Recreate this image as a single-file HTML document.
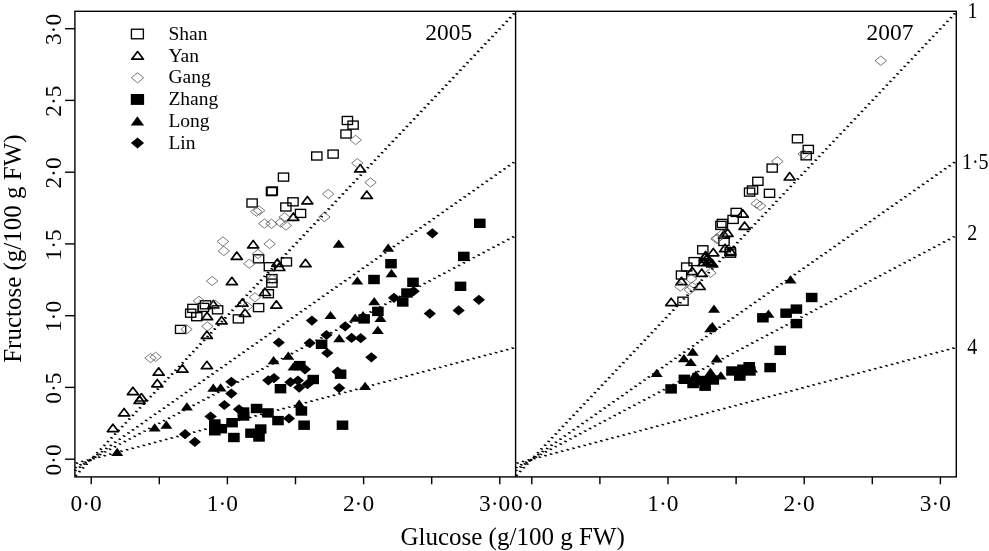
<!DOCTYPE html><html><head><meta charset="utf-8"><title>chart</title><style>html,body{margin:0;padding:0;background:#fff}svg{display:block;will-change:transform}text{font-family:"Liberation Serif",serif;fill:#000}</style></head><body>
<svg width="989" height="551" viewBox="0 0 989 551">
<rect width="989" height="551" fill="#fff"/>
<defs><clipPath id="c1"><rect x="74.9" y="11.3" width="440.70000000000005" height="465.59999999999997"/></clipPath><clipPath id="c2"><rect x="515.6" y="11.3" width="440.69999999999993" height="465.59999999999997"/></clipPath></defs>
<g clip-path="url(#c1)"><g transform="matrix(2.9483 0.9580 -0.4944 1.5217 0 0)" stroke="#000" stroke-width="1" stroke-linecap="round" fill="none">
<line x1="159.38" y1="-92.42" x2="70.47" y2="268.70" stroke-dasharray="0.001 3.0033" stroke-dashoffset="-1.502"/>
<line x1="174.24" y1="-3.82" x2="69.89" y2="265.29" stroke-dasharray="0.001 2.8960" stroke-dashoffset="-1.448"/>
<line x1="181.67" y1="40.48" x2="69.61" y2="263.59" stroke-dasharray="0.001 2.7839" stroke-dashoffset="-1.392"/>
<line x1="192.81" y1="106.93" x2="69.18" y2="261.04" stroke-dasharray="0.001 2.5050" stroke-dashoffset="-1.253"/>
</g></g>
<g clip-path="url(#c2)"><g transform="matrix(2.9483 0.9580 -0.4944 1.5217 0 0)" stroke="#000" stroke-width="1" stroke-linecap="round" fill="none">
<line x1="294.58" y1="-177.59" x2="205.66" y2="183.52" stroke-dasharray="0.001 3.0033" stroke-dashoffset="-1.502"/>
<line x1="309.44" y1="-88.98" x2="205.09" y2="180.14" stroke-dasharray="0.001 2.8960" stroke-dashoffset="-1.448"/>
<line x1="316.87" y1="-44.67" x2="204.81" y2="178.45" stroke-dasharray="0.001 2.7839" stroke-dashoffset="-1.392"/>
<line x1="328.01" y1="21.79" x2="204.38" y2="175.91" stroke-dasharray="0.001 2.5050" stroke-dashoffset="-1.253"/>
</g></g>
<rect x="187.78" y="304.38" width="10.25" height="8.05" fill="none" stroke="#000" stroke-width="1.35"/>
<rect x="185.57" y="309.18" width="10.25" height="8.05" fill="none" stroke="#000" stroke-width="1.35"/>
<rect x="191.68" y="312.68" width="10.25" height="8.05" fill="none" stroke="#000" stroke-width="1.35"/>
<rect x="198.38" y="303.38" width="10.25" height="8.05" fill="none" stroke="#000" stroke-width="1.35"/>
<rect x="200.38" y="300.78" width="10.25" height="8.05" fill="none" stroke="#000" stroke-width="1.35"/>
<rect x="212.47" y="305.78" width="10.25" height="8.05" fill="none" stroke="#000" stroke-width="1.35"/>
<rect x="233.28" y="314.88" width="10.25" height="8.05" fill="none" stroke="#000" stroke-width="1.35"/>
<rect x="175.47" y="325.38" width="10.25" height="8.05" fill="none" stroke="#000" stroke-width="1.35"/>
<rect x="253.48" y="303.58" width="10.25" height="8.05" fill="none" stroke="#000" stroke-width="1.35"/>
<rect x="263.18" y="289.68" width="10.25" height="8.05" fill="none" stroke="#000" stroke-width="1.35"/>
<rect x="266.77" y="274.58" width="10.25" height="8.05" fill="none" stroke="#000" stroke-width="1.35"/>
<rect x="266.77" y="279.08" width="10.25" height="8.05" fill="none" stroke="#000" stroke-width="1.35"/>
<rect x="253.48" y="254.78" width="10.25" height="8.05" fill="none" stroke="#000" stroke-width="1.35"/>
<rect x="264.27" y="262.68" width="10.25" height="8.05" fill="none" stroke="#000" stroke-width="1.35"/>
<rect x="281.27" y="257.88" width="10.25" height="8.05" fill="none" stroke="#000" stroke-width="1.35"/>
<rect x="246.97" y="198.97" width="10.25" height="8.05" fill="none" stroke="#000" stroke-width="1.35"/>
<rect x="280.77" y="202.97" width="10.25" height="8.05" fill="none" stroke="#000" stroke-width="1.35"/>
<rect x="287.88" y="197.78" width="10.25" height="8.05" fill="none" stroke="#000" stroke-width="1.35"/>
<rect x="295.38" y="209.38" width="10.25" height="8.05" fill="none" stroke="#000" stroke-width="1.35"/>
<rect x="278.38" y="173.07" width="10.25" height="8.05" fill="none" stroke="#000" stroke-width="1.35"/>
<rect x="266.38" y="187.57" width="10.25" height="8.05" fill="none" stroke="#000" stroke-width="1.35"/>
<rect x="267.18" y="186.97" width="10.25" height="8.05" fill="none" stroke="#000" stroke-width="1.35"/>
<rect x="311.68" y="151.97" width="10.25" height="8.05" fill="none" stroke="#000" stroke-width="1.35"/>
<rect x="327.98" y="150.07" width="10.25" height="8.05" fill="none" stroke="#000" stroke-width="1.35"/>
<rect x="342.27" y="116.47" width="10.25" height="8.05" fill="none" stroke="#000" stroke-width="1.35"/>
<rect x="347.98" y="121.07" width="10.25" height="8.05" fill="none" stroke="#000" stroke-width="1.35"/>
<rect x="340.88" y="129.97" width="10.25" height="8.05" fill="none" stroke="#000" stroke-width="1.35"/>
<rect x="697.67" y="245.78" width="10.25" height="8.05" fill="none" stroke="#000" stroke-width="1.35"/>
<rect x="688.98" y="257.58" width="10.25" height="8.05" fill="none" stroke="#000" stroke-width="1.35"/>
<rect x="681.58" y="262.98" width="10.25" height="8.05" fill="none" stroke="#000" stroke-width="1.35"/>
<rect x="676.38" y="270.98" width="10.25" height="8.05" fill="none" stroke="#000" stroke-width="1.35"/>
<rect x="725.17" y="247.57" width="10.25" height="8.05" fill="none" stroke="#000" stroke-width="1.35"/>
<rect x="725.38" y="249.17" width="10.25" height="8.05" fill="none" stroke="#000" stroke-width="1.35"/>
<rect x="718.88" y="237.47" width="10.25" height="8.05" fill="none" stroke="#000" stroke-width="1.35"/>
<rect x="677.88" y="297.18" width="10.25" height="8.05" fill="none" stroke="#000" stroke-width="1.35"/>
<rect x="744.48" y="188.07" width="10.25" height="8.05" fill="none" stroke="#000" stroke-width="1.35"/>
<rect x="747.38" y="185.97" width="10.25" height="8.05" fill="none" stroke="#000" stroke-width="1.35"/>
<rect x="764.38" y="189.28" width="10.25" height="8.05" fill="none" stroke="#000" stroke-width="1.35"/>
<rect x="731.08" y="208.38" width="10.25" height="8.05" fill="none" stroke="#000" stroke-width="1.35"/>
<rect x="727.98" y="215.38" width="10.25" height="8.05" fill="none" stroke="#000" stroke-width="1.35"/>
<rect x="715.77" y="221.38" width="10.25" height="8.05" fill="none" stroke="#000" stroke-width="1.35"/>
<rect x="717.27" y="219.38" width="10.25" height="8.05" fill="none" stroke="#000" stroke-width="1.35"/>
<rect x="792.38" y="134.78" width="10.25" height="8.05" fill="none" stroke="#000" stroke-width="1.35"/>
<rect x="803.17" y="145.38" width="10.25" height="8.05" fill="none" stroke="#000" stroke-width="1.35"/>
<rect x="801.08" y="151.78" width="10.25" height="8.05" fill="none" stroke="#000" stroke-width="1.35"/>
<rect x="767.08" y="164.07" width="10.25" height="8.05" fill="none" stroke="#000" stroke-width="1.35"/>
<rect x="752.77" y="177.28" width="10.25" height="8.05" fill="none" stroke="#000" stroke-width="1.35"/>
<path d="M107.4 431.6L112.9 424.2L118.5 431.6Z" fill="none" stroke="#000" stroke-width="1.7" stroke-linejoin="round"/>
<path d="M118.5 415.9L124.1 408.5L129.7 415.9Z" fill="none" stroke="#000" stroke-width="1.7" stroke-linejoin="round"/>
<path d="M127.4 394.6L132.9 387.2L138.5 394.6Z" fill="none" stroke="#000" stroke-width="1.7" stroke-linejoin="round"/>
<path d="M134.0 403.4L139.6 396.0L145.2 403.4Z" fill="none" stroke="#000" stroke-width="1.7" stroke-linejoin="round"/>
<path d="M135.8 401.0L141.4 393.6L147.0 401.0Z" fill="none" stroke="#000" stroke-width="1.7" stroke-linejoin="round"/>
<path d="M151.8 386.8L157.3 379.4L162.9 386.8Z" fill="none" stroke="#000" stroke-width="1.7" stroke-linejoin="round"/>
<path d="M153.1 375.2L158.7 367.8L164.2 375.2Z" fill="none" stroke="#000" stroke-width="1.7" stroke-linejoin="round"/>
<path d="M176.8 372.2L182.4 364.8L188.0 372.2Z" fill="none" stroke="#000" stroke-width="1.7" stroke-linejoin="round"/>
<path d="M201.3 368.7L206.9 361.3L212.5 368.7Z" fill="none" stroke="#000" stroke-width="1.7" stroke-linejoin="round"/>
<path d="M201.3 338.4L206.9 331.0L212.5 338.4Z" fill="none" stroke="#000" stroke-width="1.7" stroke-linejoin="round"/>
<path d="M216.0 323.9L221.6 316.5L227.2 323.9Z" fill="none" stroke="#000" stroke-width="1.7" stroke-linejoin="round"/>
<path d="M239.4 316.5L245.0 309.1L250.6 316.5Z" fill="none" stroke="#000" stroke-width="1.7" stroke-linejoin="round"/>
<path d="M236.8 306.2L242.4 298.8L248.0 306.2Z" fill="none" stroke="#000" stroke-width="1.7" stroke-linejoin="round"/>
<path d="M270.8 308.2L276.4 300.8L281.9 308.2Z" fill="none" stroke="#000" stroke-width="1.7" stroke-linejoin="round"/>
<path d="M259.4 295.5L265.0 288.1L270.6 295.5Z" fill="none" stroke="#000" stroke-width="1.7" stroke-linejoin="round"/>
<path d="M226.3 284.7L231.9 277.3L237.5 284.7Z" fill="none" stroke="#000" stroke-width="1.7" stroke-linejoin="round"/>
<path d="M207.8 307.9L213.3 300.5L218.9 307.9Z" fill="none" stroke="#000" stroke-width="1.7" stroke-linejoin="round"/>
<path d="M201.5 319.7L207.1 312.3L212.7 319.7Z" fill="none" stroke="#000" stroke-width="1.7" stroke-linejoin="round"/>
<path d="M247.6 247.9L253.2 240.5L258.8 247.9Z" fill="none" stroke="#000" stroke-width="1.7" stroke-linejoin="round"/>
<path d="M231.2 259.4L236.8 252.0L242.4 259.4Z" fill="none" stroke="#000" stroke-width="1.7" stroke-linejoin="round"/>
<path d="M271.8 266.3L277.4 258.9L282.9 266.3Z" fill="none" stroke="#000" stroke-width="1.7" stroke-linejoin="round"/>
<path d="M273.8 270.5L279.4 263.1L284.9 270.5Z" fill="none" stroke="#000" stroke-width="1.7" stroke-linejoin="round"/>
<path d="M299.9 266.7L305.5 259.3L311.1 266.7Z" fill="none" stroke="#000" stroke-width="1.7" stroke-linejoin="round"/>
<path d="M287.8 220.4L293.4 213.0L298.9 220.4Z" fill="none" stroke="#000" stroke-width="1.7" stroke-linejoin="round"/>
<path d="M301.8 203.9L307.4 196.5L312.9 203.9Z" fill="none" stroke="#000" stroke-width="1.7" stroke-linejoin="round"/>
<path d="M354.6 171.9L360.2 164.5L365.8 171.9Z" fill="none" stroke="#000" stroke-width="1.7" stroke-linejoin="round"/>
<path d="M361.2 198.4L366.8 191.0L372.4 198.4Z" fill="none" stroke="#000" stroke-width="1.7" stroke-linejoin="round"/>
<path d="M707.8 255.8L713.3 248.4L718.8 255.8Z" fill="none" stroke="#000" stroke-width="1.7" stroke-linejoin="round"/>
<path d="M719.5 251.7L725.0 244.3L730.5 251.7Z" fill="none" stroke="#000" stroke-width="1.7" stroke-linejoin="round"/>
<path d="M724.9 254.7L730.4 247.3L735.9 254.7Z" fill="none" stroke="#000" stroke-width="1.7" stroke-linejoin="round"/>
<path d="M699.2 260.7L704.8 253.3L710.3 260.7Z" fill="none" stroke="#000" stroke-width="1.7" stroke-linejoin="round"/>
<path d="M703.0 264.4L708.5 257.0L714.0 264.4Z" fill="none" stroke="#000" stroke-width="1.7" stroke-linejoin="round"/>
<path d="M698.0 265.7L703.5 258.3L709.0 265.7Z" fill="none" stroke="#000" stroke-width="1.7" stroke-linejoin="round"/>
<path d="M706.7 266.9L712.2 259.5L717.8 266.9Z" fill="none" stroke="#000" stroke-width="1.7" stroke-linejoin="round"/>
<path d="M686.7 274.7L692.2 267.3L697.8 274.7Z" fill="none" stroke="#000" stroke-width="1.7" stroke-linejoin="round"/>
<path d="M696.2 276.4L701.7 269.0L707.2 276.4Z" fill="none" stroke="#000" stroke-width="1.7" stroke-linejoin="round"/>
<path d="M676.0 284.7L681.5 277.3L687.0 284.7Z" fill="none" stroke="#000" stroke-width="1.7" stroke-linejoin="round"/>
<path d="M694.2 289.5L699.7 282.1L705.2 289.5Z" fill="none" stroke="#000" stroke-width="1.7" stroke-linejoin="round"/>
<path d="M665.7 305.6L671.2 298.2L676.8 305.6Z" fill="none" stroke="#000" stroke-width="1.7" stroke-linejoin="round"/>
<path d="M737.2 217.1L742.8 209.7L748.3 217.1Z" fill="none" stroke="#000" stroke-width="1.7" stroke-linejoin="round"/>
<path d="M739.1 229.3L744.6 221.9L750.1 229.3Z" fill="none" stroke="#000" stroke-width="1.7" stroke-linejoin="round"/>
<path d="M722.1 236.4L727.6 229.0L733.1 236.4Z" fill="none" stroke="#000" stroke-width="1.7" stroke-linejoin="round"/>
<path d="M718.5 238.2L724.0 230.8L729.5 238.2Z" fill="none" stroke="#000" stroke-width="1.7" stroke-linejoin="round"/>
<path d="M784.2 180.0L789.7 172.6L795.2 180.0Z" fill="none" stroke="#000" stroke-width="1.7" stroke-linejoin="round"/>
<path d="M701.0 262.5L706.5 255.1L712.0 262.5Z" fill="none" stroke="#000" stroke-width="1.7" stroke-linejoin="round"/>
<path d="M704.7 265.5L710.2 258.1L715.8 265.5Z" fill="none" stroke="#000" stroke-width="1.7" stroke-linejoin="round"/>
<path d="M700.1 258.9L705.6 251.5L711.1 258.9Z" fill="none" stroke="#000" stroke-width="1.7" stroke-linejoin="round"/>
<path d="M144.8 358.0L150.6 353.4L156.3 358.0L150.6 362.6Z" fill="none" stroke="#555" stroke-width="0.8"/>
<path d="M149.8 356.9L155.6 352.2L161.3 356.9L155.6 361.5Z" fill="none" stroke="#555" stroke-width="0.8"/>
<path d="M201.6 326.4L207.3 321.8L213.1 326.4L207.3 331.0Z" fill="none" stroke="#555" stroke-width="0.8"/>
<path d="M180.8 329.4L186.5 324.8L192.2 329.4L186.5 334.0Z" fill="none" stroke="#555" stroke-width="0.8"/>
<path d="M249.2 297.3L254.9 292.7L260.6 297.3L254.9 301.9Z" fill="none" stroke="#555" stroke-width="0.8"/>
<path d="M241.2 306.5L247.0 301.9L252.8 306.5L247.0 311.1Z" fill="none" stroke="#555" stroke-width="0.8"/>
<path d="M206.4 281.0L212.2 276.4L217.9 281.0L212.2 285.6Z" fill="none" stroke="#555" stroke-width="0.8"/>
<path d="M193.2 300.9L199.0 296.2L204.8 300.9L199.0 305.5Z" fill="none" stroke="#555" stroke-width="0.8"/>
<path d="M209.2 304.6L214.9 300.0L220.7 304.6L214.9 309.2Z" fill="none" stroke="#555" stroke-width="0.8"/>
<path d="M217.2 241.5L222.9 236.8L228.7 241.5L222.9 246.2Z" fill="none" stroke="#555" stroke-width="0.8"/>
<path d="M218.1 251.0L223.8 246.3L229.6 251.0L223.8 255.7Z" fill="none" stroke="#555" stroke-width="0.8"/>
<path d="M263.9 243.9L269.6 239.2L275.4 243.9L269.6 248.6Z" fill="none" stroke="#555" stroke-width="0.8"/>
<path d="M252.2 254.0L258.0 249.3L263.8 254.0L258.0 258.6Z" fill="none" stroke="#555" stroke-width="0.8"/>
<path d="M243.6 263.7L249.3 259.1L255.1 263.7L249.3 268.3Z" fill="none" stroke="#555" stroke-width="0.8"/>
<path d="M266.6 279.0L272.3 274.4L278.1 279.0L272.3 283.6Z" fill="none" stroke="#555" stroke-width="0.8"/>
<path d="M258.6 223.6L264.4 218.9L270.1 223.6L264.4 228.2Z" fill="none" stroke="#555" stroke-width="0.8"/>
<path d="M265.8 223.8L271.5 219.2L277.2 223.8L271.5 228.5Z" fill="none" stroke="#555" stroke-width="0.8"/>
<path d="M274.9 222.6L280.7 217.9L286.4 222.6L280.7 227.2Z" fill="none" stroke="#555" stroke-width="0.8"/>
<path d="M280.1 225.5L285.9 220.8L291.6 225.5L285.9 230.2Z" fill="none" stroke="#555" stroke-width="0.8"/>
<path d="M278.8 217.3L284.5 212.7L290.2 217.3L284.5 222.0Z" fill="none" stroke="#555" stroke-width="0.8"/>
<path d="M318.6 217.0L324.3 212.3L330.1 217.0L324.3 221.7Z" fill="none" stroke="#555" stroke-width="0.8"/>
<path d="M250.6 211.6L256.3 206.9L262.1 211.6L256.3 216.2Z" fill="none" stroke="#555" stroke-width="0.8"/>
<path d="M253.4 210.6L259.2 205.9L264.9 210.6L259.2 215.2Z" fill="none" stroke="#555" stroke-width="0.8"/>
<path d="M322.4 194.0L328.2 189.3L333.9 194.0L328.2 198.7Z" fill="none" stroke="#555" stroke-width="0.8"/>
<path d="M349.9 139.9L355.6 135.2L361.4 139.9L355.6 144.6Z" fill="none" stroke="#555" stroke-width="0.8"/>
<path d="M351.6 163.2L357.3 158.5L363.1 163.2L357.3 167.8Z" fill="none" stroke="#555" stroke-width="0.8"/>
<path d="M364.8 182.4L370.5 177.8L376.2 182.4L370.5 187.1Z" fill="none" stroke="#555" stroke-width="0.8"/>
<path d="M875.0 60.7L880.8 56.1L886.5 60.7L880.8 65.4Z" fill="none" stroke="#555" stroke-width="0.8"/>
<path d="M771.6 161.3L777.4 156.7L783.1 161.3L777.4 166.0Z" fill="none" stroke="#555" stroke-width="0.8"/>
<path d="M797.9 154.0L803.6 149.3L809.4 154.0L803.6 158.7Z" fill="none" stroke="#555" stroke-width="0.8"/>
<path d="M750.9 203.7L756.6 199.0L762.4 203.7L756.6 208.3Z" fill="none" stroke="#555" stroke-width="0.8"/>
<path d="M754.4 205.8L760.1 201.2L765.9 205.8L760.1 210.5Z" fill="none" stroke="#555" stroke-width="0.8"/>
<path d="M711.6 238.3L717.4 233.7L723.1 238.3L717.4 243.0Z" fill="none" stroke="#555" stroke-width="0.8"/>
<path d="M715.8 234.7L721.5 230.0L727.2 234.7L721.5 239.3Z" fill="none" stroke="#555" stroke-width="0.8"/>
<path d="M710.8 238.8L716.5 234.2L722.2 238.8L716.5 243.5Z" fill="none" stroke="#555" stroke-width="0.8"/>
<path d="M704.8 272.9L710.5 268.2L716.2 272.9L710.5 277.5Z" fill="none" stroke="#555" stroke-width="0.8"/>
<path d="M685.2 278.8L691.0 274.2L696.8 278.8L691.0 283.4Z" fill="none" stroke="#555" stroke-width="0.8"/>
<path d="M674.5 286.5L680.3 281.9L686.0 286.5L680.3 291.1Z" fill="none" stroke="#555" stroke-width="0.8"/>
<path d="M684.0 289.8L689.7 285.2L695.5 289.8L689.7 294.4Z" fill="none" stroke="#555" stroke-width="0.8"/>
<path d="M686.5 286.7L692.2 282.1L698.0 286.7L692.2 291.3Z" fill="none" stroke="#555" stroke-width="0.8"/>
<path d="M111.2 456.0L117.2 447.8L123.2 456.0Z" fill="#000"/>
<path d="M148.7 431.4L154.7 423.2L160.7 431.4Z" fill="#000"/>
<path d="M160.4 428.7L166.4 420.5L172.4 428.7Z" fill="#000"/>
<path d="M180.9 410.5L186.9 402.3L192.9 410.5Z" fill="#000"/>
<path d="M207.3 391.8L213.3 383.6L219.3 391.8Z" fill="#000"/>
<path d="M214.6 391.4L220.6 383.2L226.6 391.4Z" fill="#000"/>
<path d="M293.2 407.8L299.2 399.6L305.2 407.8Z" fill="#000"/>
<path d="M359.1 389.9L365.1 381.7L371.1 389.9Z" fill="#000"/>
<path d="M324.5 319.1L330.5 310.9L336.5 319.1Z" fill="#000"/>
<path d="M368.2 305.3L374.2 297.1L380.2 305.3Z" fill="#000"/>
<path d="M349.2 321.8L355.2 313.6L361.2 321.8Z" fill="#000"/>
<path d="M357.0 319.2L363.0 311.0L369.0 319.2Z" fill="#000"/>
<path d="M374.5 321.9L380.5 313.7L386.5 321.9Z" fill="#000"/>
<path d="M371.8 333.9L377.8 325.7L383.8 333.9Z" fill="#000"/>
<path d="M333.2 342.3L339.2 334.1L345.2 342.3Z" fill="#000"/>
<path d="M282.3 359.7L288.3 351.5L294.3 359.7Z" fill="#000"/>
<path d="M267.6 364.2L273.6 356.0L279.6 364.2Z" fill="#000"/>
<path d="M287.5 370.4L293.5 362.2L299.5 370.4Z" fill="#000"/>
<path d="M332.7 247.7L338.7 239.5L344.7 247.7Z" fill="#000"/>
<path d="M382.2 251.8L388.2 243.6L394.2 251.8Z" fill="#000"/>
<path d="M385.5 277.3L391.5 269.1L397.5 277.3Z" fill="#000"/>
<path d="M351.3 284.6L357.3 276.4L363.3 284.6Z" fill="#000"/>
<path d="M650.7 376.9L656.7 368.7L662.7 376.9Z" fill="#000"/>
<path d="M686.7 355.7L692.7 347.5L698.7 355.7Z" fill="#000"/>
<path d="M677.9 362.2L683.9 354.0L689.9 362.2Z" fill="#000"/>
<path d="M684.8 366.1L690.8 357.9L696.8 366.1Z" fill="#000"/>
<path d="M710.7 362.5L716.7 354.3L722.7 362.5Z" fill="#000"/>
<path d="M708.0 312.8L714.0 304.6L720.0 312.8Z" fill="#000"/>
<path d="M704.2 332.2L710.2 324.0L716.2 332.2Z" fill="#000"/>
<path d="M706.3 330.1L712.3 321.9L718.3 330.1Z" fill="#000"/>
<path d="M784.5 283.5L790.5 275.3L796.5 283.5Z" fill="#000"/>
<path d="M762.5 317.7L768.5 309.5L774.5 317.7Z" fill="#000"/>
<path d="M689.9 378.8L695.9 370.6L701.9 378.8Z" fill="#000"/>
<path d="M687.8 380.5L693.8 372.3L699.8 380.5Z" fill="#000"/>
<path d="M704.5 375.9L710.5 367.7L716.5 375.9Z" fill="#000"/>
<path d="M714.8 379.5L720.8 371.3L726.8 379.5Z" fill="#000"/>
<path d="M746.0 372.6L752.0 364.4L758.0 372.6Z" fill="#000"/>
<path d="M178.9 434.2L185.1 429.1L191.2 434.2L185.1 439.2Z" fill="#000"/>
<path d="M188.7 441.9L194.8 436.8L201.0 441.9L194.8 446.9Z" fill="#000"/>
<path d="M204.4 416.5L210.6 411.4L216.8 416.5L210.6 421.6Z" fill="#000"/>
<path d="M218.2 405.0L224.4 399.9L230.6 405.0L224.4 410.1Z" fill="#000"/>
<path d="M225.2 393.6L231.3 388.6L237.5 393.6L231.3 398.7Z" fill="#000"/>
<path d="M225.2 381.8L231.4 376.8L237.6 381.8L231.4 386.9Z" fill="#000"/>
<path d="M232.8 409.3L239.0 404.2L245.2 409.3L239.0 414.4Z" fill="#000"/>
<path d="M262.2 380.3L268.3 375.2L274.4 380.3L268.3 385.4Z" fill="#000"/>
<path d="M267.9 378.1L274.0 373.1L280.1 378.1L274.0 383.2Z" fill="#000"/>
<path d="M284.2 382.2L290.4 377.1L296.5 382.2L290.4 387.2Z" fill="#000"/>
<path d="M291.8 380.5L297.9 375.4L304.0 380.5L297.9 385.6Z" fill="#000"/>
<path d="M293.1 387.6L299.2 382.6L305.3 387.6L299.2 392.7Z" fill="#000"/>
<path d="M301.4 384.2L307.5 379.1L313.6 384.2L307.5 389.2Z" fill="#000"/>
<path d="M282.9 418.5L289.0 413.4L295.1 418.5L289.0 423.6Z" fill="#000"/>
<path d="M333.1 388.1L339.2 383.1L345.3 388.1L339.2 393.2Z" fill="#000"/>
<path d="M305.8 320.6L311.9 315.6L318.0 320.6L311.9 325.7Z" fill="#000"/>
<path d="M272.7 342.5L278.8 337.4L284.9 342.5L278.8 347.6Z" fill="#000"/>
<path d="M303.6 343.1L309.7 338.1L315.8 343.1L309.7 348.2Z" fill="#000"/>
<path d="M320.4 335.0L326.5 329.9L332.6 335.0L326.5 340.1Z" fill="#000"/>
<path d="M339.1 326.3L345.2 321.2L351.3 326.3L345.2 331.4Z" fill="#000"/>
<path d="M345.5 337.9L351.6 332.8L357.8 337.9L351.6 342.9Z" fill="#000"/>
<path d="M354.6 338.2L360.7 333.1L366.8 338.2L360.7 343.2Z" fill="#000"/>
<path d="M321.2 353.0L327.3 347.9L333.4 353.0L327.3 358.1Z" fill="#000"/>
<path d="M365.2 357.3L371.4 352.2L377.5 357.3L371.4 362.4Z" fill="#000"/>
<path d="M298.9 369.3L305.0 364.2L311.1 369.3L305.0 374.4Z" fill="#000"/>
<path d="M331.5 371.7L337.6 366.6L343.8 371.7L337.6 376.8Z" fill="#000"/>
<path d="M387.9 297.8L394.0 292.8L400.1 297.8L394.0 302.9Z" fill="#000"/>
<path d="M407.5 291.2L413.6 286.1L419.8 291.2L413.6 296.2Z" fill="#000"/>
<path d="M423.7 313.6L429.8 308.6L435.9 313.6L429.8 318.7Z" fill="#000"/>
<path d="M452.5 310.4L458.6 305.3L464.8 310.4L458.6 315.4Z" fill="#000"/>
<path d="M472.8 299.8L478.9 294.8L485.0 299.8L478.9 304.9Z" fill="#000"/>
<path d="M426.2 233.3L432.4 228.2L438.5 233.3L432.4 238.4Z" fill="#000"/>
<rect x="209.0" y="419.3" width="11.6" height="9.4" fill="#000"/>
<rect x="209.0" y="426.1" width="11.6" height="9.4" fill="#000"/>
<rect x="215.5" y="424.0" width="11.6" height="9.4" fill="#000"/>
<rect x="226.3" y="418.0" width="11.6" height="9.4" fill="#000"/>
<rect x="228.1" y="432.8" width="11.6" height="9.4" fill="#000"/>
<rect x="237.7" y="407.3" width="11.6" height="9.4" fill="#000"/>
<rect x="237.7" y="411.3" width="11.6" height="9.4" fill="#000"/>
<rect x="250.8" y="403.8" width="11.6" height="9.4" fill="#000"/>
<rect x="262.1" y="408.2" width="11.6" height="9.4" fill="#000"/>
<rect x="272.2" y="415.9" width="11.6" height="9.4" fill="#000"/>
<rect x="254.9" y="424.3" width="11.6" height="9.4" fill="#000"/>
<rect x="245.2" y="428.5" width="11.6" height="9.4" fill="#000"/>
<rect x="253.2" y="432.3" width="11.6" height="9.4" fill="#000"/>
<rect x="274.7" y="384.0" width="11.6" height="9.4" fill="#000"/>
<rect x="307.4" y="374.8" width="11.6" height="9.4" fill="#000"/>
<rect x="334.8" y="369.5" width="11.6" height="9.4" fill="#000"/>
<rect x="295.6" y="406.3" width="11.6" height="9.4" fill="#000"/>
<rect x="298.3" y="420.5" width="11.6" height="9.4" fill="#000"/>
<rect x="336.7" y="420.5" width="11.6" height="9.4" fill="#000"/>
<rect x="294.0" y="360.9" width="11.6" height="9.4" fill="#000"/>
<rect x="315.8" y="339.6" width="11.6" height="9.4" fill="#000"/>
<rect x="358.3" y="314.2" width="11.6" height="9.4" fill="#000"/>
<rect x="372.1" y="306.7" width="11.6" height="9.4" fill="#000"/>
<rect x="396.9" y="297.3" width="11.6" height="9.4" fill="#000"/>
<rect x="401.2" y="288.3" width="11.6" height="9.4" fill="#000"/>
<rect x="407.2" y="277.6" width="11.6" height="9.4" fill="#000"/>
<rect x="368.2" y="274.8" width="11.6" height="9.4" fill="#000"/>
<rect x="385.2" y="259.0" width="11.6" height="9.4" fill="#000"/>
<rect x="474.0" y="218.6" width="11.6" height="9.4" fill="#000"/>
<rect x="458.0" y="251.7" width="11.6" height="9.4" fill="#000"/>
<rect x="454.7" y="281.6" width="11.6" height="9.4" fill="#000"/>
<rect x="665.3" y="384.2" width="11.6" height="9.4" fill="#000"/>
<rect x="678.6" y="374.6" width="11.6" height="9.4" fill="#000"/>
<rect x="687.3" y="378.8" width="11.6" height="9.4" fill="#000"/>
<rect x="699.3" y="381.5" width="11.6" height="9.4" fill="#000"/>
<rect x="707.5" y="375.3" width="11.6" height="9.4" fill="#000"/>
<rect x="726.2" y="366.3" width="11.6" height="9.4" fill="#000"/>
<rect x="734.0" y="371.4" width="11.6" height="9.4" fill="#000"/>
<rect x="737.2" y="364.5" width="11.6" height="9.4" fill="#000"/>
<rect x="743.4" y="362.0" width="11.6" height="9.4" fill="#000"/>
<rect x="744.1" y="366.3" width="11.6" height="9.4" fill="#000"/>
<rect x="774.4" y="345.7" width="11.6" height="9.4" fill="#000"/>
<rect x="764.3" y="362.9" width="11.6" height="9.4" fill="#000"/>
<rect x="805.9" y="292.8" width="11.6" height="9.4" fill="#000"/>
<rect x="790.6" y="304.4" width="11.6" height="9.4" fill="#000"/>
<rect x="780.3" y="308.5" width="11.6" height="9.4" fill="#000"/>
<rect x="790.6" y="318.9" width="11.6" height="9.4" fill="#000"/>
<rect x="757.1" y="313.1" width="11.6" height="9.4" fill="#000"/>
<rect x="696.9" y="375.8" width="11.6" height="9.4" fill="#000"/>
<rect x="131.43" y="29.23" width="11.95" height="9.55" fill="none" stroke="#000" stroke-width="1.35"/>
<text x="168.4" y="39.6" font-size="19.5">Shan</text>
<path d="M131.7 59.2L137.6 51.6L143.5 59.2Z" fill="none" stroke="#000" stroke-width="1.7" stroke-linejoin="round"/>
<text x="168.4" y="61.5" font-size="19.5">Yan</text>
<path d="M131.3 77.8L137.5 72.7L143.7 77.8L137.5 82.9Z" fill="none" stroke="#555" stroke-width="0.8"/>
<text x="168.4" y="83.4" font-size="19.5">Gang</text>
<rect x="130.8" y="94.0" width="13.3" height="10.9" fill="#000"/>
<text x="168.4" y="105.0" font-size="19.5">Zhang</text>
<path d="M130.7 125.6L137.4 116.2L144.1 125.6Z" fill="#000"/>
<text x="168.4" y="126.8" font-size="19.5">Long</text>
<path d="M130.9 143.1L137.5 137.6L144.1 143.1L137.5 148.6Z" fill="#000"/>
<text x="168.4" y="148.7" font-size="19.5">Lin</text>
<g stroke="#000" stroke-width="1.4" fill="none"><rect x="74.9" y="11.3" width="881.4" height="465.59999999999997"/><line x1="515.6" y1="11.3" x2="515.6" y2="476.9"/>
<line x1="91.2" y1="476.9" x2="91.2" y2="484.3"/>
<line x1="531.8" y1="476.9" x2="531.8" y2="484.3"/>
<line x1="74.9" y1="459.2" x2="65.10000000000001" y2="459.2"/>
<line x1="159.3" y1="476.9" x2="159.3" y2="484.3"/>
<line x1="599.9" y1="476.9" x2="599.9" y2="484.3"/>
<line x1="74.9" y1="387.4" x2="65.10000000000001" y2="387.4"/>
<line x1="227.4" y1="476.9" x2="227.4" y2="484.3"/>
<line x1="668.0" y1="476.9" x2="668.0" y2="484.3"/>
<line x1="74.9" y1="315.7" x2="65.10000000000001" y2="315.7"/>
<line x1="295.5" y1="476.9" x2="295.5" y2="484.3"/>
<line x1="736.1" y1="476.9" x2="736.1" y2="484.3"/>
<line x1="74.9" y1="243.9" x2="65.10000000000001" y2="243.9"/>
<line x1="363.6" y1="476.9" x2="363.6" y2="484.3"/>
<line x1="804.2" y1="476.9" x2="804.2" y2="484.3"/>
<line x1="74.9" y1="172.2" x2="65.10000000000001" y2="172.2"/>
<line x1="431.7" y1="476.9" x2="431.7" y2="484.3"/>
<line x1="872.3" y1="476.9" x2="872.3" y2="484.3"/>
<line x1="74.9" y1="100.4" x2="65.10000000000001" y2="100.4"/>
<line x1="499.8" y1="476.9" x2="499.8" y2="484.3"/>
<line x1="940.4" y1="476.9" x2="940.4" y2="484.3"/>
<line x1="74.9" y1="28.7" x2="65.10000000000001" y2="28.7"/>
</g>
<text x="86.1" y="510.8" font-size="23.4" text-anchor="middle">0·0</text>
<text x="526.7" y="510.8" font-size="23.4" text-anchor="middle">0·0</text>
<text x="222.3" y="510.8" font-size="23.4" text-anchor="middle">1·0</text>
<text x="662.9" y="510.8" font-size="23.4" text-anchor="middle">1·0</text>
<text x="358.5" y="510.8" font-size="23.4" text-anchor="middle">2·0</text>
<text x="799.1" y="510.8" font-size="23.4" text-anchor="middle">2·0</text>
<text x="494.7" y="510.8" font-size="23.4" text-anchor="middle">3·0</text>
<text x="935.3" y="510.8" font-size="23.4" text-anchor="middle">3·0</text>
<text transform="translate(61.3 460.0) rotate(-90)" font-size="23.4" text-anchor="middle">0·0</text>
<text transform="translate(61.3 388.2) rotate(-90)" font-size="23.4" text-anchor="middle">0·5</text>
<text transform="translate(61.3 316.5) rotate(-90)" font-size="23.4" text-anchor="middle">1·0</text>
<text transform="translate(61.3 244.8) rotate(-90)" font-size="23.4" text-anchor="middle">1·5</text>
<text transform="translate(61.3 173.0) rotate(-90)" font-size="23.4" text-anchor="middle">2·0</text>
<text transform="translate(61.3 101.2) rotate(-90)" font-size="23.4" text-anchor="middle">2·5</text>
<text transform="translate(61.3 29.5) rotate(-90)" font-size="23.4" text-anchor="middle">3·0</text>
<text x="448.7" y="39.8" font-size="23.4" text-anchor="middle">2005</text>
<text x="890" y="39.8" font-size="23.4" text-anchor="middle">2007</text>
<text transform="translate(972.4 18.2) scale(0.905 1)" font-size="22.1" text-anchor="middle">1</text>
<text transform="translate(975.2 168.8) scale(0.905 1)" font-size="22.1" text-anchor="middle">1·5</text>
<text transform="translate(972.3 240.4) scale(0.905 1)" font-size="22.1" text-anchor="middle">2</text>
<text transform="translate(972.2 354.3) scale(0.905 1)" font-size="22.1" text-anchor="middle">4</text>
<text x="512.6" y="545" font-size="25" text-anchor="middle">Glucose (g/100 g FW)</text>
<text transform="translate(21.2 248.6) rotate(-90)" font-size="25" text-anchor="middle">Fructose (g/100 g FW)</text>
</svg></body></html>
